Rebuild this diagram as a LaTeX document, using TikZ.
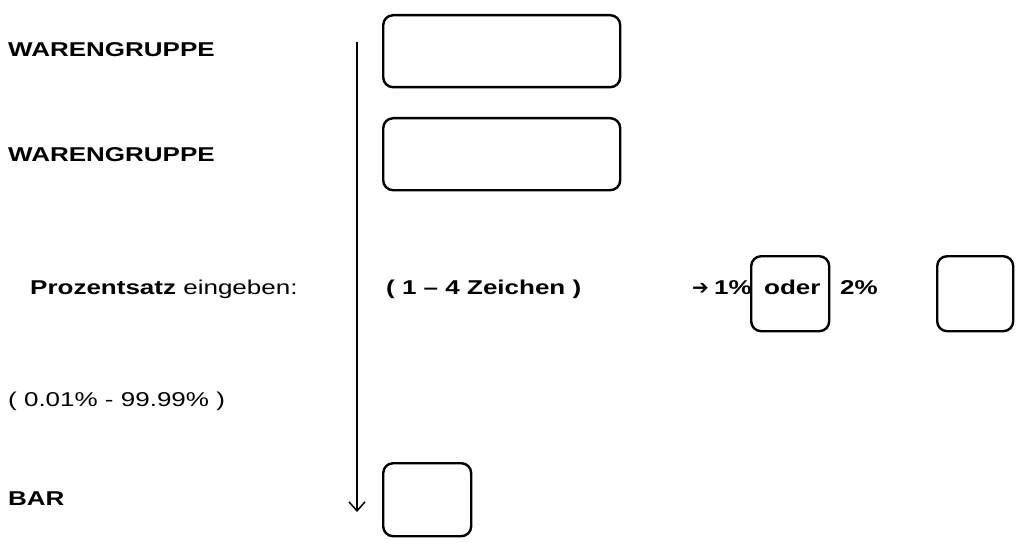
\documentclass[tikz,border=0pt]{standalone}
\usepackage{fontspec}
\setmainfont{Liberation Sans}
\newfontfamily\symfont{DejaVu Sans}
\usetikzlibrary{arrows.meta}
\newcommand{\wide}[1]{\scalebox{1.3}[1]{#1}}
\tikzstyle{field}=[draw, rectangle, rounded corners=3.5mm, line width=2.4pt, anchor=north west]
\tikzstyle{lbl}=[anchor=base west, inner sep=0pt, font=\fontsize{20}{22}\selectfont]
\begin{document}
\begin{tikzpicture}[x=1pt, y=1pt]
				\useasboundingbox (0,0) rectangle (1023,542);
				
				% labels on the left
				\node (wg1) [lbl] at (8,485) {\wide{\textbf{WARENGRUPPE}}};
				\node (wg2) [lbl] at (8,381) {\wide{\textbf{WARENGRUPPE}}};
				\node (pz) [lbl] at (30,248) {\wide{\textbf{Prozentsatz} eingeben:}};
				\node (rng) [lbl] at (8,136) {\wide{( 0.01\% - 99.99\% )}};
				\node (bar) [lbl] at (8,37) {\wide{\textbf{BAR}}};
				
				% input fields
				\node (f1) [field, minimum width=237pt, minimum height=72pt] at (382,528) {};
				\node (f2) [field, minimum width=237pt, minimum height=72pt] at (382,425) {};
				\node (fp) [field, minimum width=76pt, minimum height=75pt] at (936,287) {};
				\node (fb) [field, minimum width=88pt, minimum height=73pt] at (382,80) {};
				
				% middle row
				\node (zch) [lbl] at (386,248) {\wide{\textbf{( 1 -- 4 Zeichen )}}};
				\node (arr) [lbl] at (692,248) {\symfont\bfseries ➔};
				\node (p1) [lbl] at (714,248) {\wide{\textbf{1\%}}};
				\node (od) [field, minimum width=78pt, minimum height=75pt] at (750,287) {};
				\node (oder) [lbl] at (764,248) {\wide{\textbf{oder}}};
				\node (p2) [lbl] at (840,248) {\wide{\textbf{2\%}}};
				
				% flow arrow
				\coordinate (top) at (357,500);
				\coordinate (bot) at (357,30);
				\draw [line width=1.5pt, -{Straight Barb[length=9pt, width=16pt]}] (top) -- (bot);
\end{tikzpicture}
\end{document}
